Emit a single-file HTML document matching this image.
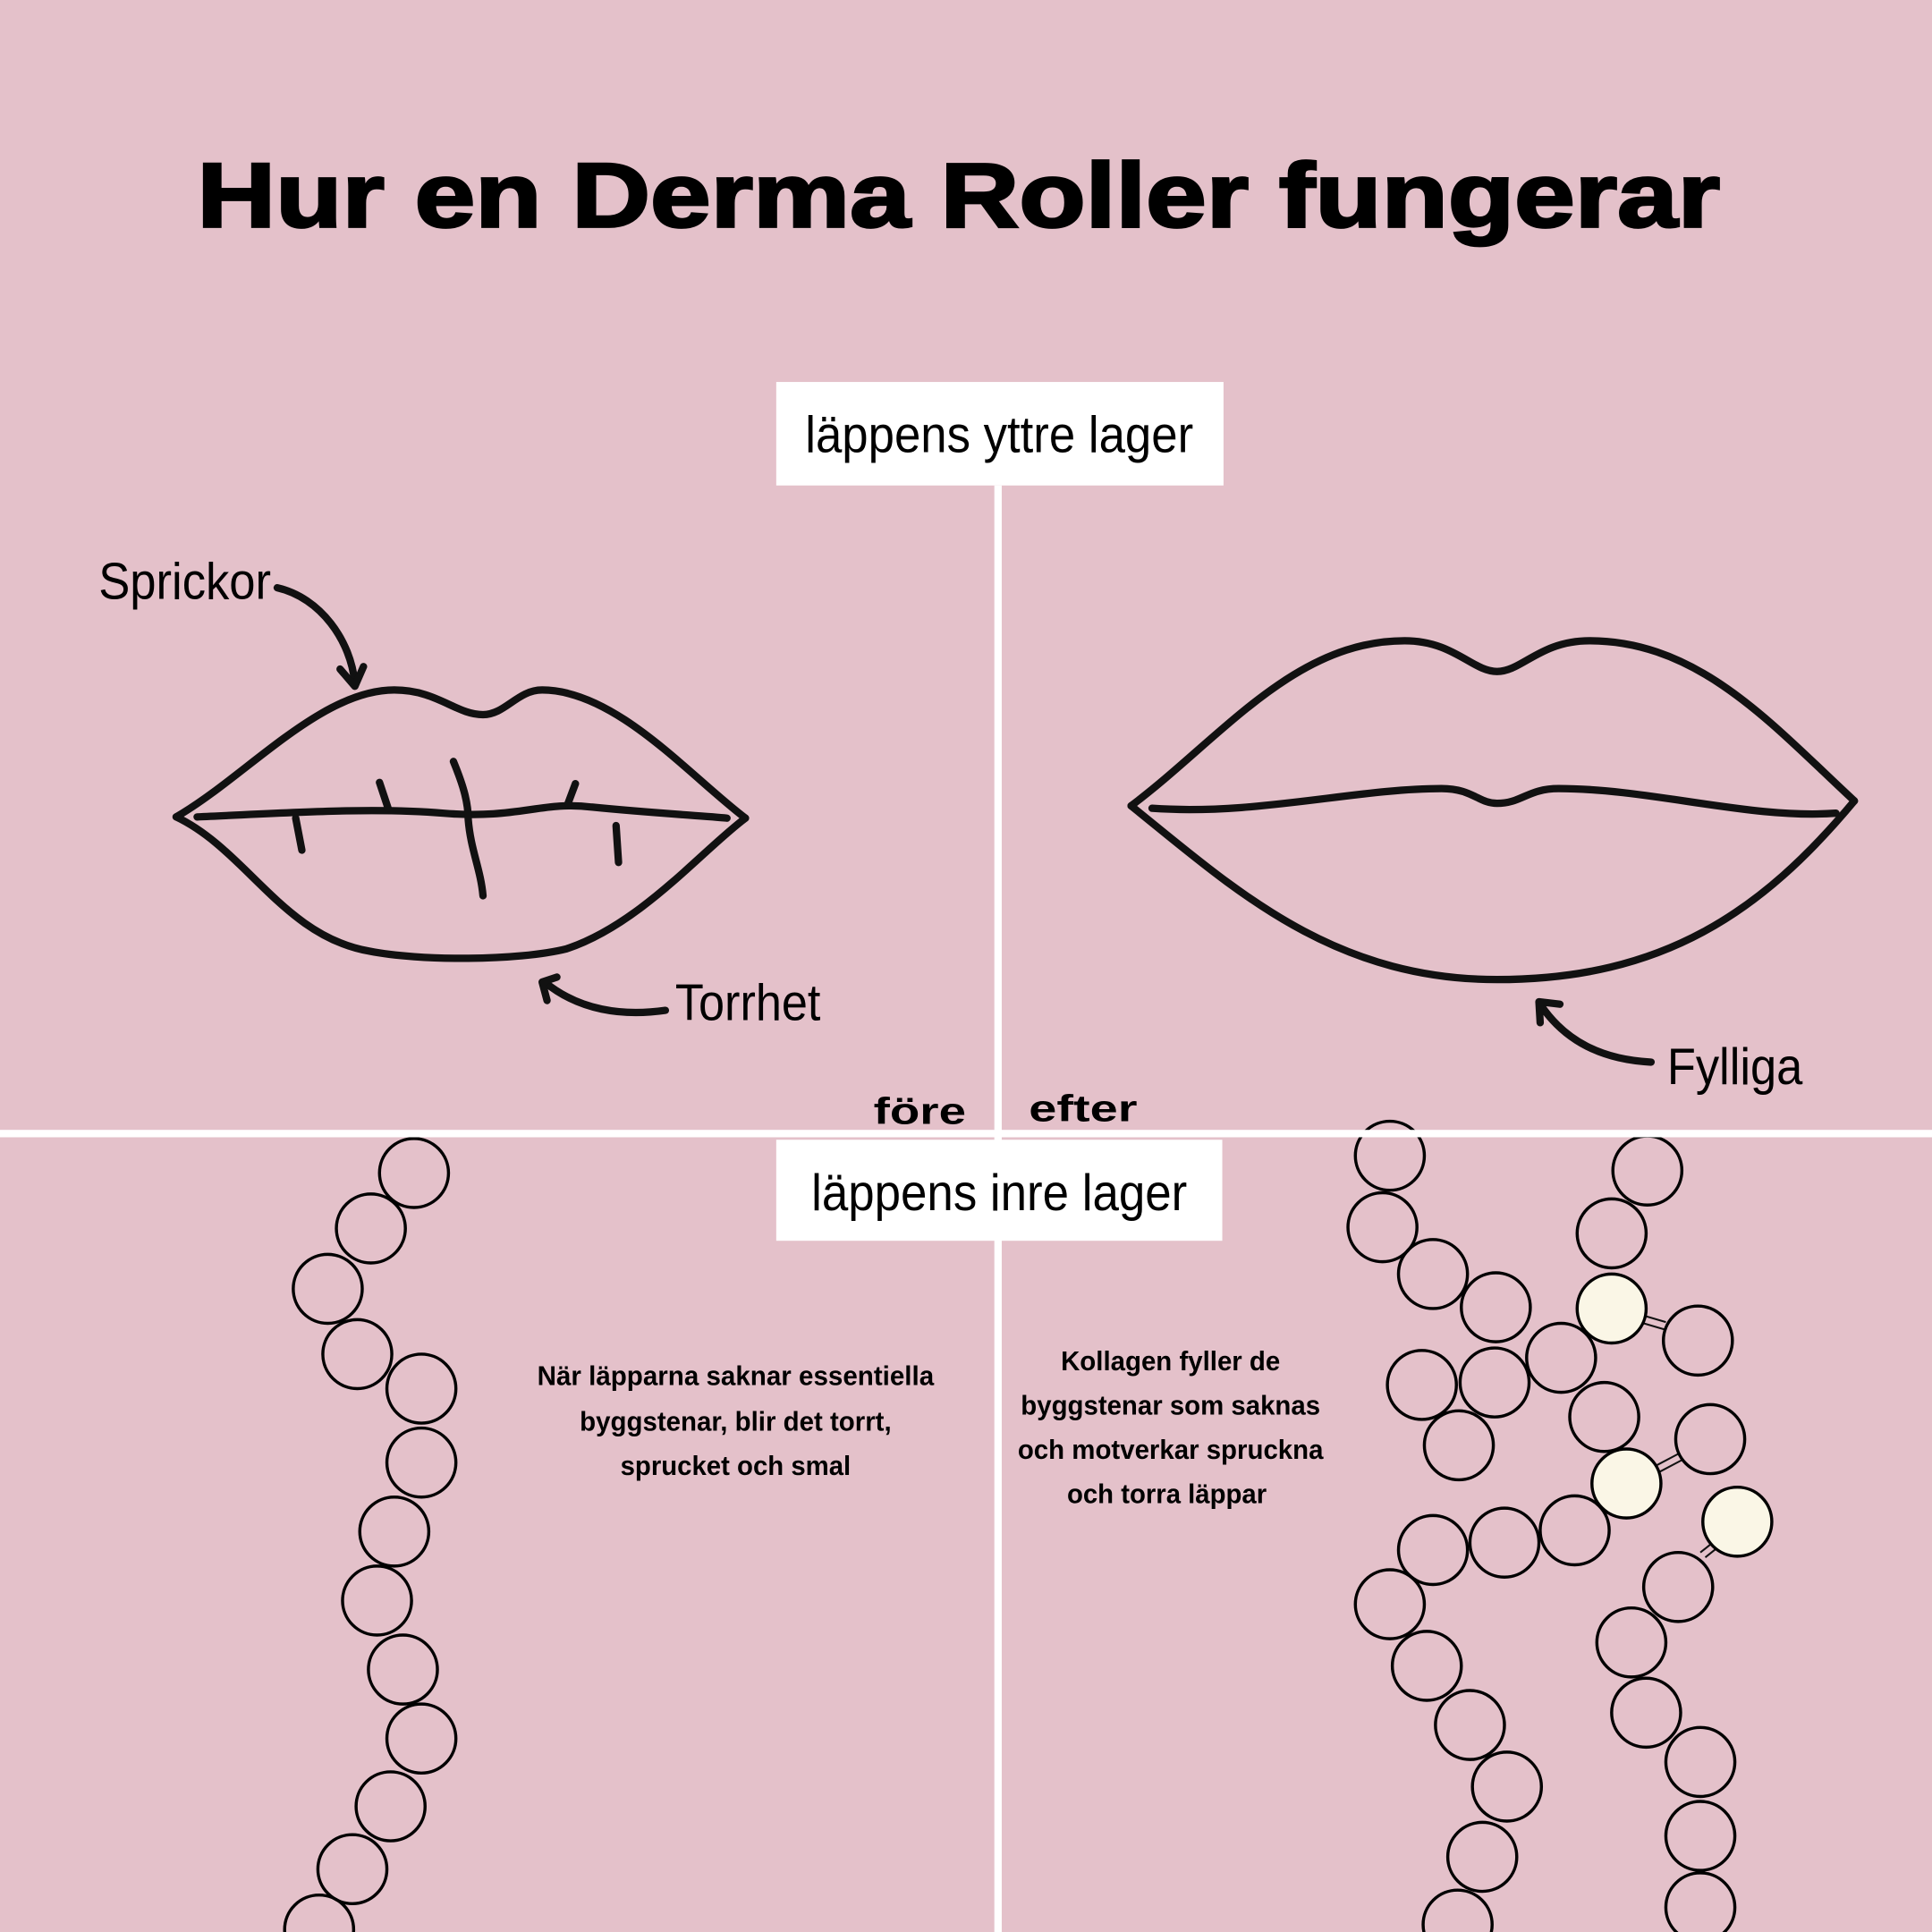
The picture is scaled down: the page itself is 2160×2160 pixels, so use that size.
<!DOCTYPE html>
<html><head><meta charset="utf-8"><style>
html,body{margin:0;padding:0;background:#e4c1ca}
svg{display:block}
.n{font-family:"Liberation Sans Narrow","Liberation Sans",sans-serif}
</style></head><body>
<svg width="2160" height="2160" viewBox="0 0 1568 1568" xmlns="http://www.w3.org/2000/svg">
<rect width="1568" height="1568" fill="#e4c1ca"/>
<text x="778" y="184" text-anchor="middle" font-family="Liberation Sans,sans-serif" font-weight="900" font-size="74" textLength="1236" lengthAdjust="spacingAndGlyphs" fill="#000" stroke="#000" stroke-width="2">Hur en Derma Roller fungerar</text>
<g stroke="#111" stroke-width="1.5">
<path d="M1335,1068 L1352,1073 M1334,1074 L1351,1079"/>
<path d="M1343,1190 L1362,1180 M1346,1195 L1365,1185"/>
<path d="M1380,1260 L1395,1248 M1384,1264 L1399,1252"/>
</g>
<g fill="none" stroke="#000" stroke-width="2.5">
<circle cx="336" cy="952" r="28"/><circle cx="301" cy="997" r="28"/><circle cx="266" cy="1046" r="28"/><circle cx="290" cy="1099" r="28"/><circle cx="342" cy="1127" r="28"/><circle cx="342" cy="1187" r="28"/><circle cx="320" cy="1243" r="28"/><circle cx="306" cy="1299" r="28"/><circle cx="327" cy="1355" r="28"/><circle cx="342" cy="1411" r="28"/><circle cx="317" cy="1466" r="28"/><circle cx="286" cy="1517" r="28"/><circle cx="259" cy="1566" r="28"/>
<circle cx="1128" cy="938" r="28"/><circle cx="1122" cy="996" r="28"/><circle cx="1163" cy="1034" r="28"/><circle cx="1214" cy="1061" r="28"/><circle cx="1267" cy="1102" r="28"/><circle cx="1378" cy="1088" r="28"/><circle cx="1337" cy="950" r="28"/><circle cx="1308" cy="1001" r="28"/><circle cx="1154" cy="1124" r="28"/><circle cx="1213" cy="1122" r="28"/><circle cx="1184" cy="1173" r="28"/><circle cx="1302" cy="1150" r="28"/><circle cx="1388" cy="1168" r="28"/><circle cx="1278" cy="1242" r="28"/><circle cx="1221" cy="1252" r="28"/><circle cx="1163" cy="1258" r="28"/><circle cx="1362" cy="1288" r="28"/><circle cx="1128" cy="1302" r="28"/><circle cx="1158" cy="1352" r="28"/><circle cx="1324" cy="1333" r="28"/><circle cx="1193" cy="1400" r="28"/><circle cx="1336" cy="1390" r="28"/><circle cx="1223" cy="1450" r="28"/><circle cx="1380" cy="1430" r="28"/><circle cx="1203" cy="1507" r="28"/><circle cx="1380" cy="1490" r="28"/><circle cx="1183" cy="1562" r="28"/><circle cx="1380" cy="1548" r="28"/>
</g>
<g fill="#faf6e6" stroke="#000" stroke-width="2.5">
<circle cx="1308" cy="1062" r="28"/><circle cx="1320" cy="1204" r="28"/><circle cx="1410" cy="1235" r="28"/>
</g>
<!-- dividers -->
<rect x="807" y="394" width="6" height="1174" fill="#fff"/>
<rect x="0" y="917" width="1568" height="6" fill="#fff"/>
<!-- label boxes -->
<rect x="630" y="310" width="363" height="84" fill="#fff"/>
<text class="n" x="811" y="367" text-anchor="middle" font-size="42" textLength="315" lengthAdjust="spacingAndGlyphs">läppens yttre lager</text>
<rect x="630" y="925" width="362" height="82" fill="#fff"/>
<text class="n" x="811" y="982" text-anchor="middle" font-size="42" textLength="305" lengthAdjust="spacingAndGlyphs">läppens inre lager</text>
<g fill="none" stroke="#111" stroke-width="6" stroke-linecap="round" stroke-linejoin="round">
<path d="M143,663 C200,630 260,560 320,560 C355,560 370,580 392,580 C410,580 420,560 440,560 C500,560 560,630 605,664"/>
<path d="M143,663 C200,690 230,760 300,772 C340,780 420,780 460,770 C520,750 570,690 605,664"/>
<path d="M160,663 C230,660 300,655 360,660 C420,665 440,650 480,655 C530,660 570,662 590,664"/>
<path d="M308,635 L315,656"/><path d="M368,618 C375,635 380,650 380,665 C382,690 390,705 392,727"/>
<path d="M467,636 L461,652"/><path d="M240,664 L245,690"/><path d="M500,670 L502,700"/>
<path d="M918,654 C990,600 1050,520 1140,520 C1180,520 1195,545 1215,545 C1235,545 1250,520 1290,520 C1380,520 1440,590 1505,650"/>
<path d="M918,654 C1000,720 1080,795 1215,795 C1350,795 1430,740 1505,650"/>
<path d="M935,656 C1020,662 1100,640 1170,640 C1195,640 1200,652 1215,652 C1235,652 1240,640 1265,640 C1340,640 1420,665 1490,660"/>
<path d="M225,477 C260,485 285,520 288,555"/><path d="M276,543 L288,557 L295,541"/>
<path d="M540,820 C505,825 470,820 442,797"/><path d="M452,793 L440,797 L444,812"/>
<path d="M1340,862 C1300,860 1270,845 1250,815"/><path d="M1250,830 L1249,813 L1266,815"/>
</g>
<g class="n" font-size="42">
<text x="80" y="486" textLength="140" lengthAdjust="spacingAndGlyphs">Sprickor</text>
<text x="548" y="828" textLength="118" lengthAdjust="spacingAndGlyphs">Torrhet</text>
<text x="1353" y="880" textLength="110" lengthAdjust="spacingAndGlyphs">Fylliga</text>
</g>
<g font-family="Liberation Sans,sans-serif" font-weight="bold" font-size="30">
<text x="709" y="912" textLength="75" lengthAdjust="spacingAndGlyphs">före</text>
<text x="835" y="910" textLength="88" lengthAdjust="spacingAndGlyphs">efter</text>
</g>
<g class="n" font-size="22" font-weight="bold" text-anchor="middle">
<text x="597" y="1124" textLength="322" lengthAdjust="spacingAndGlyphs">När läpparna saknar essentiella</text>
<text x="597" y="1161" textLength="253" lengthAdjust="spacingAndGlyphs">byggstenar, blir det torrt,</text>
<text x="597" y="1197" textLength="187" lengthAdjust="spacingAndGlyphs">sprucket och smal</text>
<text x="950" y="1112" textLength="178" lengthAdjust="spacingAndGlyphs">Kollagen fyller de</text>
<text x="950" y="1148" textLength="243" lengthAdjust="spacingAndGlyphs">byggstenar som saknas</text>
<text x="950" y="1184" textLength="248" lengthAdjust="spacingAndGlyphs">och motverkar spruckna</text>
<text x="947" y="1220" textLength="162" lengthAdjust="spacingAndGlyphs">och torra läppar</text>
</g>
</svg>
</body></html>
